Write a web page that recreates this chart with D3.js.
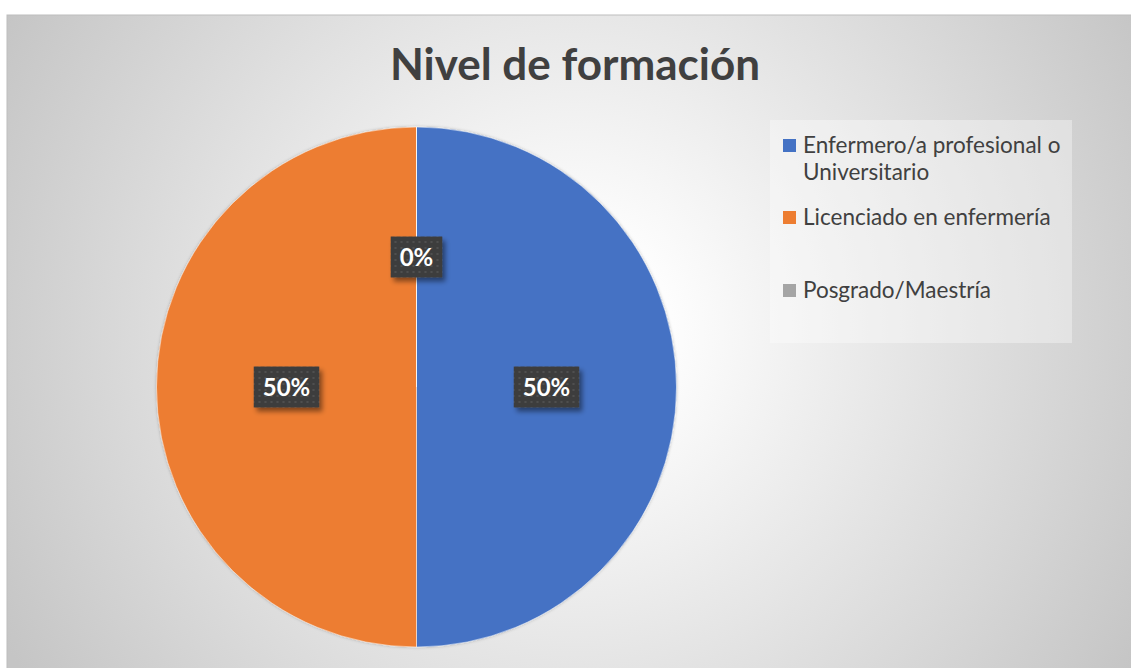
<!DOCTYPE html>
<html>
<head>
<meta charset="utf-8">
<script src="https://d3js.org/d3.v7.min.js"></script>
<style>
  body { margin: 0; background: #fff; }
  svg { display: block; }
  text { font-family: Lato, 'Open Sans', sans-serif; }
</style>
</head>
<body>
<svg id="chart"></svg>
<script>
// data
var categories = ["Enfermero/a profesional o Universitario", "Licenciado en enfermería", "Posgrado/Maestría"];
var legendLines = [["Enfermero/a profesional o", "Universitario"], ["Licenciado en enfermería"], ["Posgrado/Maestría"]];
var values = [50, 50, 0];
var colors = ["#4472C4", "#ED7D31", "#A5A5A5"];
var title = "Nivel de formación";

var width = 1131, height = 668;
var svg = d3.select("#chart").attr("width", width).attr("height", height);
var defs = svg.append("defs");

// background radial gradient like the office chart area
var bg = defs.append("radialGradient").attr("id", "bgGrad")
  .attr("gradientUnits", "userSpaceOnUse")
  .attr("cx", 575).attr("cy", 330).attr("r", 650);
bg.append("stop").attr("offset", "0%").attr("stop-color", "#ffffff");
bg.append("stop").attr("offset", "15%").attr("stop-color", "#fdfdfd");
bg.append("stop").attr("offset", "100%").attr("stop-color", "#c5c5c5");

// dotted pattern for the data label boxes
var pat = defs.append("pattern").attr("id", "dots")
  .attr("patternUnits", "userSpaceOnUse").attr("width", 6).attr("height", 6);
pat.append("rect").attr("width", 6).attr("height", 6).attr("fill", "#3d3d3d");
pat.append("rect").attr("x", 2).attr("y", 2).attr("width", 2).attr("height", 2).attr("fill", "#4f4f4f");

var sh = defs.append("filter").attr("id", "shadow")
  .attr("x", "-30%").attr("y", "-30%").attr("width", "160%").attr("height", "160%");
sh.append("feDropShadow").attr("dx", 3).attr("dy", 4).attr("stdDeviation", 2.5)
  .attr("flood-color", "#000").attr("flood-opacity", 0.45);

var psh = defs.append("filter").attr("id", "pieShadow")
  .attr("x", "-10%").attr("y", "-10%").attr("width", "120%").attr("height", "120%");
psh.append("feDropShadow").attr("dx", 0).attr("dy", 0).attr("stdDeviation", 1.5)
  .attr("flood-color", "#000").attr("flood-opacity", 0.25);

svg.append("rect").attr("x", 7).attr("y", 15).attr("width", width).attr("height", height)
  .attr("fill", "url(#bgGrad)").attr("stroke", "#bdbdbd").attr("stroke-width", 1);

// title
svg.append("text")
  .attr("x", 575).attr("y", 80)
  .attr("text-anchor", "middle")
  .attr("font-size", 44).attr("font-weight", "bold")
  .attr("fill", "#404040")
  .text(title);

// pie
var cx = 416.5, cy = 387, radius = 260;
var pie = d3.pie().sort(null).value(function(d) { return d; });
var arcs = pie(values);
var arc = d3.arc().innerRadius(0).outerRadius(radius);
var labelArc = d3.arc().innerRadius(radius / 2).outerRadius(radius / 2);

var g = svg.append("g").attr("transform", "translate(" + cx + "," + cy + ")");
g.append("g").attr("filter", "url(#pieShadow)")
  .selectAll("path").data(arcs).enter().append("path")
  .attr("d", arc)
  .attr("fill", function(d, i) { return colors[i]; })
  .attr("stroke", "rgba(255,255,255,0.5)")
  .attr("stroke-width", 1);

// data labels
var total = d3.sum(values);
var labels = g.selectAll("g.lbl").data(arcs).enter().append("g")
  .attr("class", "lbl")
  .attr("transform", function(d) { return "translate(" + labelArc.centroid(d) + ")"; });
labels.each(function(d) {
  var sel = d3.select(this);
  var box = sel.append("rect").attr("fill", "url(#dots)").attr("filter", "url(#shadow)");
  var t = sel.append("text")
    .attr("text-anchor", "middle").attr("dy", "0.36em")
    .attr("font-size", 24).attr("font-weight", "bold").attr("fill", "#ffffff")
    .text(Math.round(d.data / total * 100) + "%");
  var w = t.node().getComputedTextLength() + 18, h = 41;
  box.attr("x", -w / 2).attr("y", -h / 2).attr("width", w).attr("height", h);
});

// legend
var legend = svg.append("g");
legend.append("rect").attr("x", 770).attr("y", 120).attr("width", 302).attr("height", 223)
  .attr("fill", "#ffffff").attr("fill-opacity", 0.35);
var legendY = [153, 225, 298];
var items = legend.selectAll("g.item").data(categories).enter().append("g").attr("class", "item");
items.append("rect")
  .attr("x", 783).attr("y", function(d, i) { return legendY[i] - 14; })
  .attr("width", 13).attr("height", 13)
  .attr("fill", function(d, i) { return colors[i]; });
items.append("text")
  .attr("x", 803).attr("y", function(d, i) { return legendY[i]; })
  .attr("font-size", 22.5).attr("fill", "#404040")
  .each(function(d, i) {
    var t = d3.select(this);
    legendLines[i].forEach(function(line, j) {
      t.append("tspan").attr("x", 803).attr("dy", j === 0 ? 0 : 27).text(line);
    });
  });
</script>
</body>
</html>
